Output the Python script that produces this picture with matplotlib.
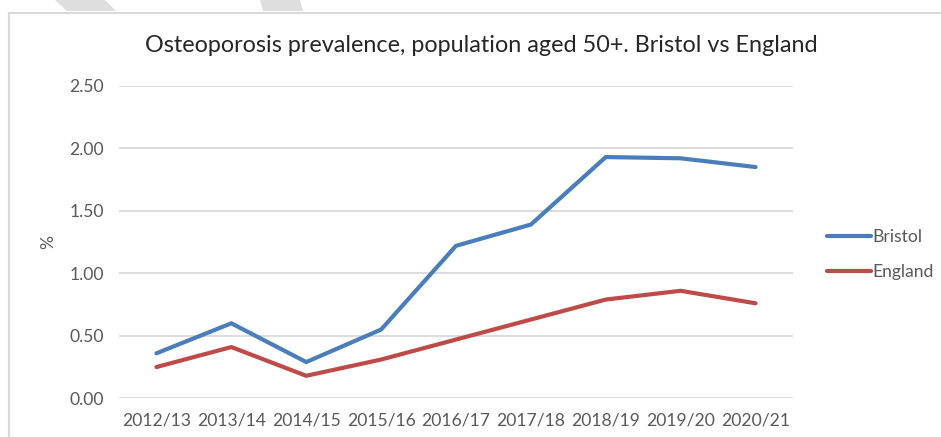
import matplotlib
matplotlib.use("Agg")
import matplotlib.pyplot as plt
from matplotlib.patches import Polygon
from matplotlib.lines import Line2D

# Prevalence (%) of osteoporosis, population aged 50+
years = ["2012/13", "2013/14", "2014/15", "2015/16", "2016/17",
         "2017/18", "2018/19", "2019/20", "2020/21"]
bristol = [0.36, 0.60, 0.29, 0.55, 1.22, 1.39, 1.93, 1.92, 1.85]
england = [0.25, 0.41, 0.18, 0.31, 0.47, 0.63, 0.79, 0.86, 0.76]
y_ticks = [0.0, 0.5, 1.0, 1.5, 2.0, 2.5]

FONT = ["Lato", "DejaVu Sans"]
BLUE = "#4a7ebb"
RED = "#be4b48"
GRID = "#d9d9d9"
TEXT = "#595959"
FS = 12.6

fig = plt.figure(figsize=(9.41, 4.37), dpi=100)
W, H = 941, 437

# decorative stripes at the top edge
for pts in ([(55, 0), (105, 0), (116, 11), (67, 11)],
            [(260, 0), (300, 0), (303, 11), (263, 11)]):
    fig.patches.append(Polygon([(x / W, 1 - y / H) for x, y in pts],
                               closed=True, transform=fig.transFigure,
                               facecolor="#dedede", edgecolor="none"))

# chart frame (left and top edges)
fig.lines.append(Line2D([9 / W, 9 / W], [0, 1 - 13 / H], transform=fig.transFigure,
                        color=GRID, linewidth=1.5))
fig.lines.append(Line2D([9 / W, 1], [1 - 13 / H, 1 - 13 / H], transform=fig.transFigure,
                        color=GRID, linewidth=1.5))

left, right = 119 / W, 793 / W
bottom, top = 1 - 398.3 / H, 1 - 85.8 / H
ax = fig.add_axes([left, bottom, right - left, top - bottom])

x = list(range(len(years)))
ax.plot(x, bristol, color=BLUE, linewidth=3, solid_capstyle="round",
        solid_joinstyle="round", label="Bristol")
ax.plot(x, england, color=RED, linewidth=3, solid_capstyle="round",
        solid_joinstyle="round", label="England")

ax.set_xlim(-0.5, len(years) - 0.5)
ax.set_ylim(0, 2.5)
ax.set_yticks(y_ticks)
ax.set_yticklabels([f"{v:.2f}" for v in y_ticks], fontfamily=FONT, fontsize=FS, color=TEXT)
ax.set_xticks(x)
ax.set_xticklabels(years, fontfamily=FONT, fontsize=FS, color=TEXT)
ax.tick_params(axis="both", length=0)
ax.tick_params(axis="y", pad=11)
ax.tick_params(axis="x", pad=10)
ax.grid(axis="y", color=GRID, linewidth=1.3)
ax.set_axisbelow(True)
for s in ax.spines.values():
    s.set_visible(False)

ax.set_ylabel("%", fontfamily=FONT, fontsize=FS, color=TEXT, labelpad=9)

fig.text(481 / W, 1 - 46 / H,
         "Osteoporosis prevalence, population aged 50+. Bristol vs England",
         ha="center", va="center", fontfamily=FONT, fontsize=16.8, color="#262626")

leg = ax.legend(loc="center left", bbox_to_anchor=(811 / W, 1 - 254.5 / H),
                bbox_transform=fig.transFigure, frameon=False,
                prop={"family": FONT, "size": FS}, handlelength=2.5,
                handletextpad=0.12, labelspacing=1.1)
for t in leg.get_texts():
    t.set_color(TEXT)

fig.savefig("out.png", dpi=100, facecolor="white")
